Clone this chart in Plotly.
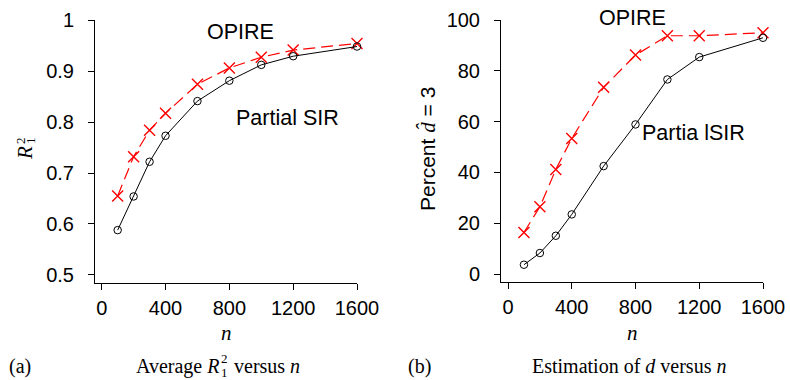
import plotly.graph_objects as go

W, H = 790, 380

n_vals = [100, 200, 300, 400, 600, 800, 1000, 1200, 1600]

# Panel (a): average R1^2
r2_partial_sir = [0.588, 0.654, 0.722, 0.773, 0.841, 0.881, 0.912, 0.929, 0.948]
r2_opire = [0.655, 0.732, 0.784, 0.817, 0.874, 0.906, 0.927, 0.941, 0.954]

# Panel (b): percent d-hat = 3
pct_partial_sir = [3.7, 8.3, 15.1, 23.5, 42.5, 58.9, 76.6, 85.4, 93.0]
pct_opire = [16.4, 26.5, 41.2, 53.4, 73.5, 86.2, 93.8, 93.8, 95.0]

x_ticks = [0, 400, 800, 1200, 1600]
y_ticks_a = [0.5, 0.6, 0.7, 0.8, 0.9, 1.0]
y_tick_text_a = ["0.5", "0.6", "0.7", "0.8", "0.9", "1"]
y_ticks_b = [0, 20, 40, 60, 80, 100]


def px(x):
    return x / W


def py(y):
    return 1 - y / H


SANS = "Liberation Sans, Arial, Helvetica, sans-serif"
SERIF = "Liberation Serif, Times New Roman, serif"

fig = go.Figure()

black_line = dict(color="black", width=1)
red_line = dict(color="red", width=1.2, dash="12px,6px")
circle_marker = dict(symbol="circle-open", size=7.5, color="black", line=dict(width=1, color="black"))
x_marker = dict(symbol="x-thin-open", size=11, color="red", line=dict(width=1.4, color="red"))

fig.add_trace(go.Scatter(x=n_vals, y=r2_opire, mode="lines+markers", line=red_line,
                         marker=x_marker, xaxis="x", yaxis="y", cliponaxis=False, showlegend=False))
fig.add_trace(go.Scatter(x=n_vals, y=r2_partial_sir, mode="lines+markers", line=black_line,
                         marker=circle_marker, xaxis="x", yaxis="y", cliponaxis=False, showlegend=False))
fig.add_trace(go.Scatter(x=n_vals, y=pct_opire, mode="lines+markers", line=red_line,
                         marker=x_marker, xaxis="x2", yaxis="y2", cliponaxis=False, showlegend=False))
fig.add_trace(go.Scatter(x=n_vals, y=pct_partial_sir, mode="lines+markers", line=black_line,
                         marker=circle_marker, xaxis="x2", yaxis="y2", cliponaxis=False, showlegend=False))

axis_common = dict(showgrid=False, zeroline=False, showline=True, linecolor="black", linewidth=1,
                   ticks="outside", ticklen=6, tickwidth=1, tickcolor="black", automargin=False,
                   tickfont=dict(family=SANS, size=20, color="black"))

fig.update_layout(
    width=W, height=H, autosize=False,
    margin=dict(l=0, r=0, t=0, b=0, pad=0),
    paper_bgcolor="white", plot_bgcolor="white",
    xaxis=dict(domain=[px(95), px(357)], range=[-42, 1600], tickvals=x_ticks,
               anchor="y", ticklabelstandoff=1, **axis_common),
    yaxis=dict(domain=[py(283), py(20)], range=[0.4843, 1.0], tickvals=y_ticks_a,
               ticktext=y_tick_text_a, anchor="x", ticklabelstandoff=10, **axis_common),
    xaxis2=dict(domain=[px(501), px(763)], range=[-44, 1600], tickvals=x_ticks,
                anchor="y2", ticklabelstandoff=1, **axis_common),
    yaxis2=dict(domain=[py(282), py(20)], range=[-3.1, 100], tickvals=y_ticks_b,
                anchor="x2", ticklabelstandoff=10, **axis_common),
)


def ann(x, y, text, family, size, xanchor="center", angle=0):
    return dict(x=px(x), y=py(y), text=text, textangle=angle, xref="paper", yref="paper",
                showarrow=False, xanchor=xanchor, yanchor="middle",
                font=dict(family=family, size=size, color="black"))


annotations = [
    # in-plot labels
    ann(240, 32, "OPIRE", SANS, 21.5),
    ann(287, 118, "Partial SIR", SANS, 21.5),
    ann(632, 18, "OPIRE", SANS, 21.5),
    ann(693, 133, "Partia lSIR", SANS, 21.5),
    # y-axis title (a): R with stacked sub/sup
    ann(25, 153, "<i>R</i>", SERIF, 21, angle=-90),
    ann(21, 141, "2", SERIF, 13, angle=-90),
    ann(31, 141, "1", SERIF, 13, angle=-90),
    # y-axis title (b)
    ann(428, 149,
        "Percent <span style='font-family:Liberation Serif'><i>d\u0302</i></span> = 3",
        SANS, 21, angle=-90),
    # x-axis titles
    ann(226, 333, "<i>n</i>", SERIF, 21),
    ann(632, 333, "<i>n</i>", SERIF, 21),
    # captions
    ann(20, 366, "(a)", SERIF, 20),
    ann(221, 366, "Average <i>R</i>", SERIF, 20, xanchor="right"),
    ann(224, 358, "2", SERIF, 13),
    ann(224, 372, "1", SERIF, 13),
    ann(232, 366, "versus <i>n</i>", SERIF, 20, xanchor="left"),
    ann(420, 366, "(b)", SERIF, 20),
    ann(629, 366, "Estimation of <i>d</i> versus <i>n</i>", SERIF, 20),
]
fig.update_layout(annotations=annotations)

fig.write_html("out.html")
